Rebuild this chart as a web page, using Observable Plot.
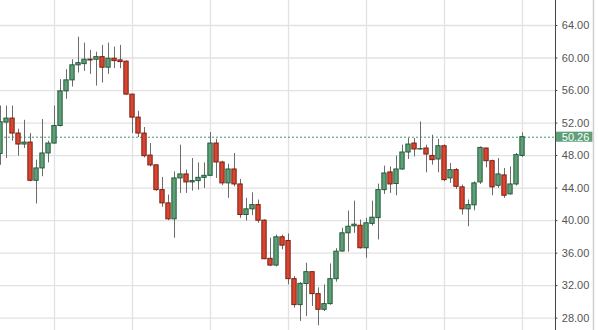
<!DOCTYPE html>
<html>
<head>
<meta charset="utf-8">
<script src="https://cdn.jsdelivr.net/npm/d3@7"></script>
<script src="https://cdn.jsdelivr.net/npm/@observablehq/plot@0.6"></script>
<style>
  html, body { margin: 0; padding: 0; background: #fff; }
  #chart svg { display: block; }
</style>
</head>
<body>
<div id="chart"></div>
<script>
// Weekly OHLC candles (index 0 = leftmost, partly cut off)
const opens  = [48.2,52.06,52.55,50.71,49.36,49.6,44.9,46.42,48.26,49.48,51.64,55.9,57.25,59.1,59.25,59.8,59.79,60.11,58.81,59.91,59.71,59.55,55.5,52.67,50.71,48.0,46.8,43.75,42.12,40.16,45.19,45.68,44.7,44.86,45.26,45.51,49.48,47.15,44.58,46.29,44.45,40.69,41.39,41.91,40.0,35.3,34.47,37.95,37.5,32.8,29.61,32.2,33.66,30.96,29.03,29.73,32.8,36.2,38.44,39.3,39.37,36.6,39.6,40.3,43.75,45.93,44.5,46.29,48.38,49.48,48.75,48.87,47.96,47.52,49.15,45.19,46.21,44.09,41.39,41.88,44.7,48.87,47.31,44.28,45.56,43.23,44.45,47.96];
const highs  = [54.1,54.1,54.1,51.24,52.34,50.71,47.44,52.43,49.77,54.1,57.34,58.56,59.79,62.56,61.83,60.93,60.72,61.55,61.83,61.34,61.55,59.65,55.5,53.45,51.45,49.48,46.8,45.31,43.14,46.0,49.28,46.21,47.64,47.1,47.1,50.83,50.01,47.3,46.94,48.26,45.07,42.74,43.42,42.53,40.1,37.83,38.23,38.2,38.36,33.12,32.38,34.76,33.7,31.73,32.1,34.67,36.55,39.06,41.18,42.4,40.07,40.28,42.4,44.49,46.7,46.6,47.93,49.28,50.1,50.1,52.13,49.28,50.5,49.98,49.3,47.03,46.4,44.37,42.53,44.77,49.07,48.9,47.44,47.64,46.42,46.61,48.26,50.79];
const lows   = [46.8,47.64,49.77,47.93,48.87,44.77,42.04,45.4,47.1,49.4,51.52,54.92,56.43,58.15,58.36,57.99,56.55,56.92,57.99,58.69,58.69,55.4,50.71,50.22,47.72,46.6,43.6,41.63,40.0,37.83,43.35,43.35,43.63,43.75,43.96,45.4,45.19,44.3,42.74,44.16,40.28,39.95,40.6,39.67,35.2,34.34,34.3,36.4,32.1,29.24,27.6,28.21,29.44,27.07,28.82,29.6,32.43,36.1,36.11,38.44,36.5,35.37,39.34,37.62,43.23,43.35,43.06,46.2,47.52,47.84,48.7,45.88,46.82,45.88,44.8,44.58,43.84,40.69,39.25,41.21,44.45,46.49,43.06,43.96,42.74,43.14,44.25,47.77];
const closes = [52.1,52.55,50.71,49.36,49.6,44.9,46.42,48.26,49.48,51.64,55.9,57.25,59.1,59.37,59.79,59.7,60.11,58.81,59.91,59.62,59.5,55.5,52.67,50.71,47.93,46.79,43.75,42.12,40.16,45.19,45.68,44.7,44.86,45.26,45.51,49.48,47.15,44.58,46.29,44.45,40.69,41.39,41.91,39.99,35.25,34.47,37.95,36.92,32.8,29.61,32.22,33.66,30.96,29.03,29.73,32.8,36.18,38.44,39.25,39.5,36.6,39.67,40.36,43.75,45.8,44.45,46.29,48.38,49.36,48.75,48.8,48.13,47.44,49.15,44.98,46.21,44.16,41.39,41.91,44.58,48.94,47.31,44.09,45.68,43.06,44.45,48.05,50.26];

const yTicks = [28, 32, 36, 40, 44, 48, 52, 56, 60, 64];
const vGridIdx = [9, 22, 35, 48, 61, 74, 87];
const lastPrice = 50.26;

const data = opens.map((o, i) => ({i, o, h: highs[i], l: lows[i], c: closes[i], up: closes[i] >= o}));

const axisX = 92.5;      // right edge of the plotting area (in candle units)
const borderX = 98.83;

const chart = Plot.plot({
  width: 598,
  height: 330,
  marginTop: 0, marginBottom: 0, marginLeft: 0, marginRight: 0,
  style: {fontFamily: "'Liberation Sans', Arial, sans-serif", fontSize: "11px", background: "#fff"},
  x: {type: "linear", domain: [0, 598 / 6], axis: null},
  y: {domain: [26.485, 67.075], axis: null},
  marks: [
    // grid
    Plot.ruleY(yTicks, {x1: 0, x2: axisX, stroke: "#e2e2e2", strokeWidth: 1.3}),
    Plot.ruleX(vGridIdx, {stroke: "#e2e2e2", strokeWidth: 1.3}),
    // last price dotted line
    Plot.ruleY([lastPrice], {x1: 0, x2: axisX, stroke: "#3f9a63", strokeDasharray: "2,2", strokeWidth: 1}),
    // wicks
    Plot.ruleX(data, {x: "i", y1: "l", y2: "h", stroke: "#6b6b6b", strokeWidth: 1}),
    // bodies
    Plot.rect(data, {
      x1: d => d.i - 0.36, x2: d => d.i + 0.36,
      y1: d => Math.min(d.o, d.c), y2: d => Math.max(d.o, d.c),
      fill: d => d.up ? "#5e9f78" : "#d9462f",
      stroke: d => d.up ? "#215c38" : "#7a1e12",
      strokeWidth: 1
    }),
    // right axis
    Plot.ruleX([axisX], {stroke: "#444", strokeWidth: 1}),
    Plot.ruleY(yTicks, {x1: axisX, x2: axisX + 0.4, stroke: "#444"}),
    Plot.text(yTicks, {x: axisX + 1.05, y: d => d, text: d => d.toFixed(2), textAnchor: "start", fill: "#555", fontSize: 11}),
    Plot.ruleX([borderX], {stroke: "#d0d0d0", strokeWidth: 1.5}),
    // last price label
    Plot.rect([lastPrice], {x1: axisX + 0.15, x2: borderX - 0.1, y1: d => d - 0.62, y2: d => d + 0.62, fill: "#5e9f78"}),
    Plot.text([lastPrice], {x: axisX + 1.05, y: d => d, text: d => d.toFixed(2), textAnchor: "start", fill: "#fff", fontSize: 11})
  ]
});
document.getElementById("chart").appendChild(chart);
</script>
</body>
</html>
